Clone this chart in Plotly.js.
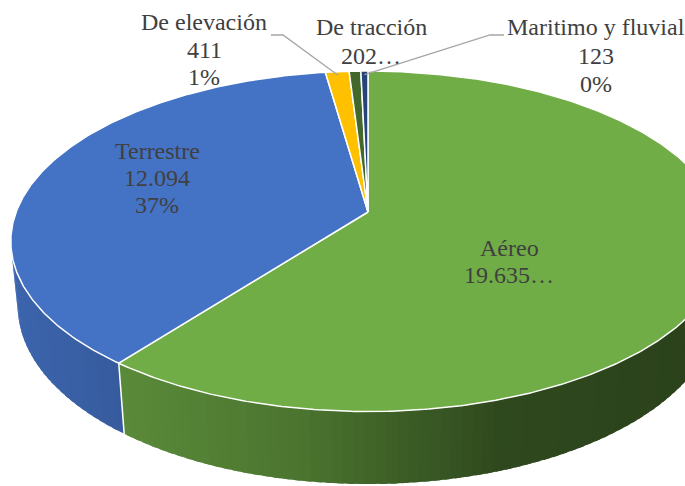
<!DOCTYPE html>
<html>
<head>
<meta charset="utf-8">
<script src="https://cdn.plot.ly/plotly-3.0.1.min.js"></script>
<style>html,body{margin:0;padding:0;background:#fff;}#chart{width:685px;height:486px;}</style>
</head>
<body>
<div id="chart"></div>
<script>
// ---- data ----
const categories = ["Aéreo", "Terrestre", "De elevación", "De tracción", "Maritimo y fluvial"];
const values = [19635, 12094, 411, 202, 123];
const valueLabels = ["19.635…", "12.094", "411", "202…", "123"];
const percentLabels = ["", "37%", "1%", "", "0%"];
const colors = ["#70ad47", "#4472c4", "#ffc000", "#43682b", "#264478"];

// ---- 3D pie projection (layout constants) ----
const CX = 368, CY = 212, K = 1805, D = 5.13, E = 28 * Math.PI / 180, H = 0.21;
function proj(th, r, z) {
  const X = r * Math.sin(th), Y = r * Math.cos(th);
  const w = D + Y * Math.cos(E) - z * Math.sin(E);
  return [CX + K * X / w, CY - K * (Y * Math.sin(E) + z * Math.cos(E)) / w];
}
function hexToRgb(h) { const n = parseInt(h.slice(1), 16); return [(n >> 16) & 255, (n >> 8) & 255, n & 255]; }
const shadePts = [[0, 0.89], [120, 0.80], [300, 0.67], [400, 0.54], [500, 0.42], [700, 0.38]];
function shadeFactor(x) {
  if (x <= shadePts[0][0]) return shadePts[0][1];
  for (let i = 1; i < shadePts.length; i++) {
    if (x <= shadePts[i][0]) {
      const [x0, f0] = shadePts[i - 1], [x1, f1] = shadePts[i];
      return f0 + (f1 - f0) * (x - x0) / (x1 - x0);
    }
  }
  return shadePts[shadePts.length - 1][1];
}
function shade(hex, f) { const c = hexToRgb(hex).map(v => Math.round(v * f)); return `rgb(${c[0]},${c[1]},${c[2]})`; }

const total = values.reduce((a, b) => a + b, 0);
const bounds = [0];
values.forEach(v => bounds.push(bounds[bounds.length - 1] + v / total * 2 * Math.PI));

const traces = [];
// side walls (strips overlapping slightly to avoid seams)
const c = 1 / (D * Math.cos(E));
const visMin = Math.acos(-c), visMax = 2 * Math.PI - Math.acos(-c);
const step = 1.5 * Math.PI / 180;
values.forEach((v, i) => {
  const a0 = Math.max(bounds[i], visMin), a1 = Math.min(bounds[i + 1], visMax);
  if (a1 <= a0) return;
  const n = Math.max(1, Math.ceil((a1 - a0) / step));
  for (let s = 0; s < n; s++) {
    const ta = a0 + (a1 - a0) * s / n;
    const tb = Math.min(a1, a0 + (a1 - a0) * (s + 1) / n + 0.6 * step);
    const p = [proj(ta, 1, 0), proj(tb, 1, 0), proj(tb, 1, -H), proj(ta, 1, -H)];
    const xm = (p[0][0] + p[1][0]) / 2;
    const col = shade(colors[i], shadeFactor(xm));
    traces.push({
      type: "scatter", mode: "lines", fill: "toself", fillcolor: col,
      x: p.map(q => q[0]).concat([p[0][0]]), y: p.map(q => q[1]).concat([p[0][1]]),
      line: { width: 0 }, hoverinfo: "skip", showlegend: false
    });
  }
});
// white separators on side wall
bounds.forEach(b => {
  const bb = b % (2 * Math.PI);
  if (bb > visMin && bb < visMax) {
    const t = proj(bb, 1, 0), u = proj(bb, 1, -H);
    traces.push({ type: "scatter", mode: "lines", x: [t[0], u[0]], y: [t[1], u[1]],
      line: { color: "#ffffff", width: 1.5 }, hoverinfo: "skip", showlegend: false });
  }
});
// top face slices
values.forEach((v, i) => {
  const a0 = bounds[i], a1 = bounds[i + 1];
  const n = Math.max(2, Math.ceil((a1 - a0) / (0.5 * Math.PI / 180)));
  const xs = [CX], ys = [CY];
  for (let s = 0; s <= n; s++) {
    const p = proj(a0 + (a1 - a0) * s / n, 1, 0);
    xs.push(p[0]); ys.push(p[1]);
  }
  xs.push(CX); ys.push(CY);
  traces.push({
    type: "scatter", mode: "lines", fill: "toself", fillcolor: colors[i], name: categories[i],
    x: xs, y: ys, line: { color: "#ffffff", width: 1.5 }, hoverinfo: "skip", showlegend: false
  });
});

// leader lines (from label anchor to slice rim midpoint)
function rimMid(i) { return proj((bounds[i] + bounds[i + 1]) / 2, 0.97, 0); }
const leaderElev = rimMid(2), leaderMar = rimMid(4);
traces.push({ type: "scatter", mode: "lines", x: [271, 283, leaderElev[0]], y: [35, 35, leaderElev[1]],
  line: { color: "#a5a5a5", width: 1.3 }, hoverinfo: "skip", showlegend: false });
traces.push({ type: "scatter", mode: "lines", x: [leaderMar[0], 490, 504], y: [leaderMar[1], 35, 35],
  line: { color: "#a5a5a5", width: 1.3 }, hoverinfo: "skip", showlegend: false });

// labels
const labelPos = [
  { x: 509, y: [248, 275] },
  { x: 157, y: [151, 178, 205] },
  { x: 204, y: [22, 50, 77] },
  { x: 371, y: [27, 56] },
  { x: 596, y: [27, 56, 84] }
];
const FONT = "Liberation Serif";
const annotations = [];
categories.forEach((cat, i) => {
  const lines = [cat, valueLabels[i], percentLabels[i]].filter(s => s !== "");
  lines.forEach((t, j) => {
    annotations.push({
      x: labelPos[i].x, y: labelPos[i].y[j], xref: "x", yref: "y", text: t, showarrow: false,
      xanchor: "center", yanchor: "middle",
      font: { family: FONT, size: 24, color: "#404040" }
    });
  });
});

const layout = {
  width: 685, height: 486,
  margin: { l: 0, r: 0, t: 0, b: 0 },
  paper_bgcolor: "#ffffff", plot_bgcolor: "#ffffff",
  font: { family: FONT },
  xaxis: { range: [0, 685], visible: false, fixedrange: true },
  yaxis: { range: [486, 0], visible: false, fixedrange: true },
  showlegend: false, hovermode: false,
  annotations: annotations
};
Plotly.newPlot("chart", traces, layout, { displayModeBar: false, staticPlot: true });
</script>
</body>
</html>
